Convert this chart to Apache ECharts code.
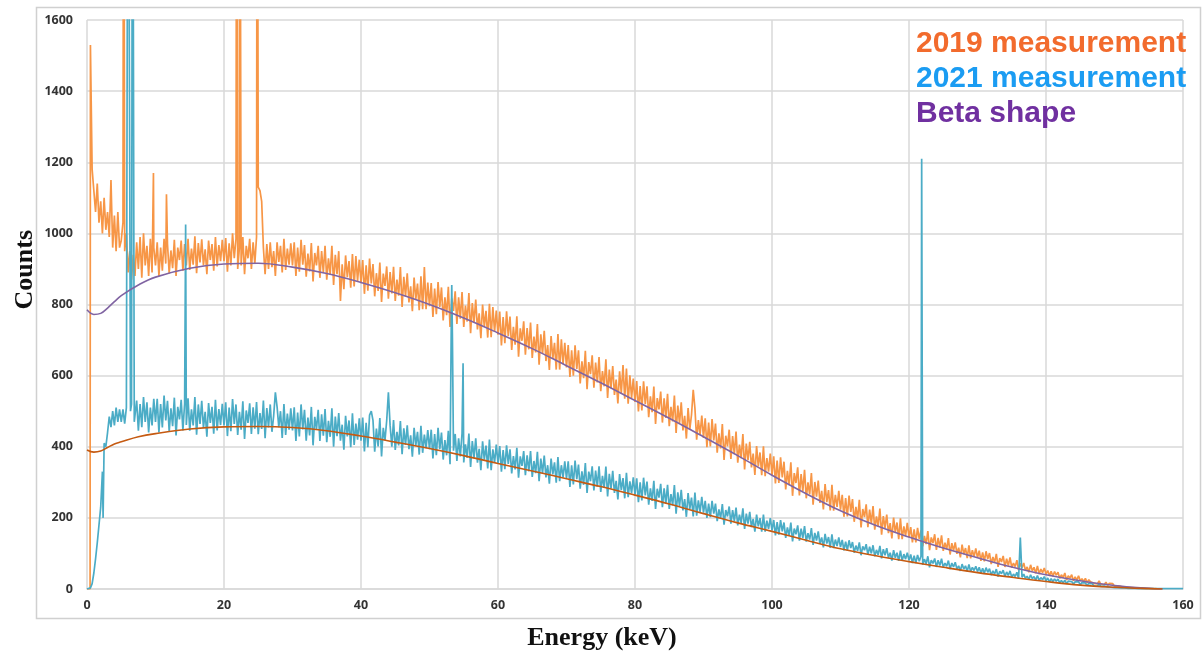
<!DOCTYPE html>
<html>
<head>
<meta charset="utf-8">
<script src="https://cdn.jsdelivr.net/npm/echarts@6/dist/echarts.min.js"></script>
<style>
html,body{margin:0;padding:0;background:#fff;}
#chart{width:1202px;height:655px;}
</style>
</head>
<body>
<div id="chart"></div>
<script>
// Channel spacing of the measured spectra (keV); each row below covers 5 keV
const energyStep = 0.25;

// 2019 measurement, counts at 0, 0.25, 0.5, ... keV
const counts2019 = [
  0, 0, 1530, 1180, 1120, 1060, 1140, 1030, 1090, 1000, 1100, 1010, 1060, 990, 1150, 960, 1050, 950, 1060, 960,
  980, 1030, 950, 1000, 890, 950, 870, 940, 880, 975, 900, 990, 875, 1000, 910, 965, 880, 985, 890, 960,
  910, 975, 880, 960, 895, 985, 915, 970, 887, 952, 902, 982, 880, 960, 925, 980, 895, 970, 910, 985,
  897, 957, 912, 992, 888, 973, 918, 983, 910, 955, 885, 980, 925, 970, 895, 990, 907, 967, 922, 982,
  922, 987, 892, 972, 910, 1000, 930, 985, 900, 960, 910, 990, 885, 965, 930, 985, 900, 975, 915, 990,
  1130, 1120, 1090, 960, 885, 970, 900, 975, 905, 950, 880, 975, 920, 965, 890, 985, 897, 957, 912, 972,
  910, 975, 880, 960, 892, 982, 912, 967, 878, 943, 893, 973, 865, 945, 910, 965, 875, 950, 890, 965,
  870, 930, 885, 965, 855, 940, 885, 950, 810, 913, 843, 938, 877, 922, 847, 942, 851, 936, 866, 926,
  860, 925, 830, 910, 839, 929, 859, 914, 823, 888, 838, 918, 807, 887, 852, 907, 816, 891, 831, 906,
  810, 870, 825, 905, 793, 878, 823, 888, 806, 851, 781, 876, 814, 859, 784, 879, 787, 905, 787, 862,
  795, 860, 765, 845, 773, 863, 793, 848, 755, 820, 770, 850, 737, 817, 782, 837, 745, 820, 760, 835,
  737, 797, 752, 832, 719, 804, 749, 814, 730, 775, 705, 800, 737, 782, 707, 802, 708, 793, 723, 783,
  715, 780, 685, 765, 691, 781, 711, 766, 672, 737, 687, 767, 653, 733, 698, 753, 659, 734, 674, 749,
  650, 710, 665, 745, 631, 716, 661, 726, 641, 686, 616, 711, 647, 692, 617, 717, 617, 702, 632, 692,
  623, 686, 596, 671, 600, 685, 619, 671, 578, 640, 593, 670, 562, 638, 604, 657, 566, 637, 581, 652,
  556, 613, 570, 646, 537, 617, 565, 627, 546, 589, 522, 612, 550, 630, 535, 620, 521, 601, 537, 592,
  526, 585, 499, 571, 502, 584, 520, 570, 483, 542, 497, 569, 464, 537, 505, 555, 468, 536, 481, 549,
  458, 512, 471, 544, 439, 516, 466, 525, 446, 487, 423, 509, 449, 490, 560, 508, 420, 475, 434, 488,
  425, 480, 399, 468, 401, 478, 418, 465, 383, 438, 395, 464, 363, 431, 401, 448, 366, 430, 379, 443,
  355, 406, 368, 436, 336, 409, 362, 414, 342, 381, 321, 402, 345, 384, 320, 401, 317, 368, 330, 381,
  321, 373, 297, 361, 298, 370, 314, 358, 280, 332, 292, 356, 262, 326, 298, 342, 263, 323, 275, 335,
  255, 300, 266, 326, 237, 301, 260, 305, 242, 276, 224, 295, 244, 278, 221, 293, 220, 265, 231, 276,
  223, 265, 203, 256, 204, 263, 217, 253, 189, 231, 198, 251, 173, 225, 202, 238, 174, 223, 184, 233,
  167, 204, 177, 226, 153, 205, 172, 209, 157, 185, 142, 201, 159, 187, 140, 199, 140, 176, 149, 186,
  145, 174, 131, 168, 131, 172, 140, 165, 120, 149, 126, 163, 109, 145, 129, 154, 110, 144, 117, 151,
  107, 130, 112, 143, 97, 129, 108, 131, 99, 116, 89, 125, 98, 115, 87, 123, 86, 109, 91, 114,
  88, 108, 79, 103, 78, 106, 84, 101, 70, 90, 75, 99, 62, 87, 76, 93, 62, 85, 66, 89,
  60, 73, 63, 81, 53, 72, 60, 73, 52, 62, 47, 68, 51, 61, 44, 65, 42, 56, 46, 59,
  42, 52, 37, 50, 36, 49, 39, 47, 30, 40, 32, 45, 25, 37, 31, 40, 23, 34, 25, 37,
  23, 29, 21, 30, 18, 26, 20, 25, 16, 21, 14, 23, 13, 18, 12, 19, 10, 16, 11, 15,
  8, 12, 9, 13, 7, 10, 6, 9, 5, 7, 4, 7, 3, 5, 3, 5, 2, 4, 2, 3,
  1, 2, 1, 2, 1, 1, 0, 0
];
// Narrow lines of the 2019 spectrum between channels [keV, counts]
const peaks2019 = [[0.45, 0], [5.35, 2600], [5.45, 2600], [9.7, 1170], [11.6, 1110], [21.85, 2600], [22.3, 2600], [24.85, 2600]];

// 2021 measurement, counts at 0, 0.25, 0.5, ... keV
const counts2021 = [
  0, 0, 3, 15, 45, 85, 130, 180, 230, 330, 410, 400, 440, 485, 455, 500, 460, 510, 470, 505,
  470, 505, 465, 510, 2600, 2600, 520, 2600, 470, 530, 445, 520, 455, 540, 470, 525, 440, 510, 460, 535,
  470, 535, 440, 520, 454, 544, 474, 529, 443, 508, 458, 538, 432, 512, 477, 532, 446, 521, 461, 536,
  445, 505, 460, 540, 434, 519, 464, 529, 453, 498, 428, 523, 467, 512, 437, 532, 446, 506, 461, 521,
  460, 525, 430, 510, 444, 534, 464, 519, 433, 498, 448, 528, 422, 502, 467, 522, 436, 511, 451, 526,
  435, 495, 450, 530, 424, 509, 454, 519, 442, 487, 553, 512, 455, 500, 425, 520, 433, 493, 448, 508,
  446, 511, 416, 496, 429, 519, 449, 504, 417, 482, 432, 512, 404, 484, 449, 504, 416, 491, 431, 506,
  413, 473, 428, 508, 400, 485, 430, 495, 417, 462, 392, 487, 429, 474, 399, 494, 405, 465, 420, 480,
  417, 482, 387, 467, 399, 489, 500, 474, 386, 451, 401, 481, 373, 453, 418, 473, 553, 460, 400, 475,
  391, 442, 404, 472, 379, 452, 405, 460, 393, 432, 372, 453, 403, 442, 378, 459, 383, 434, 396, 447,
  393, 448, 367, 436, 376, 453, 393, 440, 364, 419, 376, 445, 351, 855, 389, 436, 360, 424, 373, 437,
  356, 407, 369, 437, 343, 416, 369, 424, 355, 394, 334, 415, 364, 403, 339, 420, 334, 393, 355, 406,
  353, 402, 330, 391, 337, 404, 352, 393, 325, 374, 336, 397, 313, 373, 346, 388, 320, 376, 331, 388,
  315, 360, 326, 386, 303, 367, 326, 375, 314, 348, 296, 367, 322, 356, 299, 371, 303, 348, 314, 359,
  310, 359, 287, 348, 294, 361, 309, 350, 282, 331, 293, 354, 270, 330, 303, 345, 277, 333, 288, 345,
  273, 318, 284, 344, 260, 324, 283, 332, 270, 304, 252, 323, 278, 312, 255, 327, 258, 303, 269, 314,
  265, 311, 244, 300, 249, 313, 263, 302, 237, 283, 248, 304, 225, 282, 257, 296, 230, 283, 240, 293,
  225, 267, 235, 292, 212, 272, 233, 279, 221, 253, 203, 270, 225, 257, 204, 271, 206, 249, 217, 259,
  215, 248, 200, 240, 202, 248, 212, 240, 191, 224, 199, 239, 181, 222, 204, 232, 184, 222, 191, 229,
  179, 209, 186, 227, 169, 212, 184, 217, 174, 197, 161, 209, 176, 199, 161, 209, 161, 192, 169, 199,
  165, 194, 151, 188, 153, 194, 162, 187, 144, 173, 150, 187, 134, 170, 154, 179, 136, 170, 143, 177,
  133, 157, 139, 171, 124, 158, 136, 162, 127, 145, 117, 155, 128, 146, 116, 154, 115, 139, 121, 145,
  118, 138, 109, 133, 109, 137, 115, 132, 102, 122, 107, 131, 95, 120, 109, 126, 96, 119, 100, 123,
  92, 110, 96, 121, 86, 112, 95, 115, 88, 102, 80, 109, 88, 102, 79, 108, 79, 98, 84, 102,
  81, 97, 73, 94, 73, 96, 78, 92, 68, 84, 71, 92, 61, 81, 72, 86, 62, 81, 66, 85,
  61, 73, 64, 80, 56, 73, 62, 75, 56, 65, 51, 70, 56, 65, 50, 69, 49, 61, 52, 64,
  49, 61, 44, 58, 44, 60, 47, 57, 39, 51, 42, 56, 35, 50, 43, 53, 35, 48, 38, 51,
  33, 42, 35, 47, 29, 145, 33, 42, 30, 36, 26, 40, 29, 35, 25, 38, 24, 32, 26, 35,
  23, 31, 20, 29, 21, 28, 22, 28, 18, 24, 17, 25, 15, 22, 17, 21, 14, 20, 15, 21,
  12, 18, 13, 17, 10, 16, 12, 15, 9, 13, 8, 14, 7, 12, 8, 11, 6, 10, 5, 9,
  4, 8, 4, 7, 3, 6, 3, 5, 2, 5, 2, 4, 2, 4, 1, 3, 1, 3, 1, 2,
  1, 2, 1, 2, 1, 2, 1, 2, 1, 2, 1, 2, 1, 2, 1, 2, 1, 2, 1, 2,
  1
];
// Narrow lines of the 2021 spectrum between channels [keV, counts]
const peaks2021 = [[2.35, 200], [6.35, 500], [6.65, 2600], [6.9, 470], [14.4, 1025],
  [53.2, 790], [53.35, 700], [54.9, 635], [121.85, 1210], [121.95, 1210]];

// Beta shape curves
const betaEnergy = [0, 1, 2, 3, 4, 5, 7.5, 10, 15, 20, 25, 30, 35, 40, 45, 50, 55, 60, 65, 70, 75, 80, 85, 90, 95, 100, 105, 110, 115, 120, 125, 130, 135, 140, 145, 150, 155, 157];
const beta2019 = [785, 772, 775, 790, 808, 825, 855, 877, 902, 914, 916, 905, 887, 862, 833, 800, 762, 720, 676, 628, 580, 530, 480, 428, 375, 320, 268, 220, 180, 146, 115, 88, 62, 40, 23, 10, 2, 0];
const beta2021 = [391, 385, 388, 398, 408, 414, 428, 437, 450, 456, 457, 454, 445, 430, 413, 395, 375, 353, 332, 310, 288, 264, 239, 212, 186, 162, 137, 113, 94, 77, 61, 46, 33, 21, 11, 5, 1, 0];

// Axis ticks
const xTicks = [0, 20, 40, 60, 80, 100, 120, 140, 160];
const yTicks = [0, 200, 400, 600, 800, 1000, 1200, 1400, 1600];

function buildSpectrum(counts, peaks) {
  const pts = counts.map((v, i) => [i * energyStep, v]);
  return pts.concat(peaks).sort((a, b) => a[0] - b[0]);
}
function pairs(xs, ys) { return xs.map((x, i) => [x, ys[i]]); }

const chart = echarts.init(document.getElementById('chart'), null, {renderer: 'canvas'});
const labelStyle = {color: '#333', fontWeight: 'bold', fontFamily: 'Open Sans', fontSize: 12.5, formatter: v => String(v)};
chart.setOption({
  animation: false,
  backgroundColor: '#ffffff',
  grid: {left: 87, right: 19, top: 20, bottom: 66},
  xAxis: {
    type: 'value', min: xTicks[0], max: xTicks[xTicks.length - 1], interval: 20,
    axisLine: {show: true, lineStyle: {color: '#d9d9d9', width: 1.5}},
    axisTick: {show: false},
    axisLabel: Object.assign({margin: 10}, labelStyle),
    splitLine: {show: true, lineStyle: {color: '#d9d9d9', width: 1.5}}
  },
  yAxis: {
    type: 'value', min: yTicks[0], max: yTicks[yTicks.length - 1], interval: 200,
    axisLine: {show: false},
    axisTick: {show: false},
    axisLabel: Object.assign({margin: 14}, labelStyle),
    splitLine: {show: true, lineStyle: {color: '#d9d9d9', width: 1.5}}
  },
  legend: {
    orient: 'vertical', left: 906, top: 24, icon: 'none', itemWidth: 0, itemHeight: 30, itemGap: 5,
    selectedMode: false,
    textStyle: {fontSize: 30, fontWeight: 'bold', fontFamily: 'Liberation Sans', padding: 0, lineHeight: 30},
    data: [
      {name: '2019 measurement', textStyle: {color: '#F26B2D'}},
      {name: '2021 measurement', textStyle: {color: '#1B9CF2'}},
      {name: 'Beta shape', textStyle: {color: '#7030A0'}}
    ]
  },
  graphic: [
    {type: 'rect', silent: true, z: -1, shape: {x: 36.5, y: 7.5, width: 1164, height: 611}, style: {fill: 'none', stroke: '#d0d0d0', lineWidth: 1.5}},
    {type: 'text', left: 12, top: 230, rotation: Math.PI / 2, style: {text: 'Counts', font: 'bold 26px "Liberation Serif"', fill: '#111'}},
    {type: 'text', x: 602, y: 638, style: {text: 'Energy (keV)', font: 'bold 26px "Liberation Serif"', fill: '#111', align: 'center', verticalAlign: 'middle'}}
  ],
  series: [
    {name: '2019 measurement', type: 'line', data: buildSpectrum(counts2019, peaks2019), symbol: 'none', lineStyle: {color: '#F79646', width: 1.7}, itemStyle: {color: '#F79646'}, z: 2},
    {name: '2021 measurement', type: 'line', data: buildSpectrum(counts2021, peaks2021), symbol: 'none', lineStyle: {color: '#4BACC6', width: 1.7}, itemStyle: {color: '#4BACC6'}, z: 3},
    {name: 'Beta shape', type: 'line', data: pairs(betaEnergy, beta2019), smooth: 0.4, symbol: 'none', lineStyle: {color: '#8064A2', width: 1.6}, itemStyle: {color: '#8064A2'}, z: 4},
    {name: 'Beta shape 2021', type: 'line', data: pairs(betaEnergy, beta2021), smooth: 0.4, symbol: 'none', lineStyle: {color: '#C55A11', width: 1.6}, itemStyle: {color: '#C55A11'}, z: 5}
  ]
});
</script>
</body>
</html>
